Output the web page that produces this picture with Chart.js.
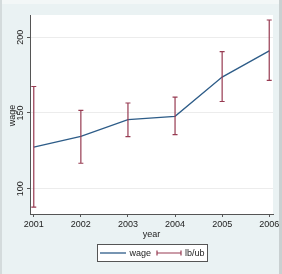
<!DOCTYPE html>
<html><head><meta charset="utf-8">
<script src="https://cdn.jsdelivr.net/npm/chart.js@4.4.1/dist/chart.umd.min.js"></script>
<style>html,body{margin:0;padding:0;background:#fff;overflow:hidden}#wrap{width:282px;height:274px}</style>
</head><body><div id="wrap"><canvas id="c" width="282" height="274"></canvas></div>
<script>
const years = [2001, 2002, 2003, 2004, 2005, 2006];
const wage  = [127.4, 134.6, 145.6, 147.8, 173.7, 191.0];
const lb    = [87.9, 116.8, 134.4, 135.7, 157.6, 171.5];
const ub    = [167.5, 151.7, 156.6, 160.5, 190.5, 211.4];
const yTicks = [100, 150, 200];
const xTitle = 'year';
const yTitle = 'wage';
const legendLabels = ['wage', 'lb/ub'];

const FONT = "'Liberation Sans Narrow','Arial Narrow','Liberation Sans',Arial,sans-serif";
const LINE_COLOR = '#2d5c88';
const BAR_COLOR = '#973b52';
const TEXT_COLOR = '#222';

const framePlugin = {
  id: 'frame',
  beforeDraw(chart) {
    const ctx = chart.ctx, a = chart.chartArea;
    ctx.save();
    ctx.fillStyle = '#f3f7f7';
    ctx.fillRect(0, 0, 282, 274);
    ctx.fillStyle = '#eaf2f3';
    ctx.fillRect(2, 4, 277, 270);
    ctx.fillStyle = '#d4dbdc';
    ctx.fillRect(0, 0, 2, 274);
    ctx.fillStyle = '#c9d0d1';
    ctx.fillRect(279, 0, 3, 274);
    ctx.fillStyle = '#ffffff';
    ctx.fillRect(a.left, a.top, a.right - a.left, a.bottom - a.top);
    ctx.restore();
  },
  afterDatasetsDraw(chart) {
    const ctx = chart.ctx, xs = chart.scales.x, ys = chart.scales.y;
    ctx.save();
    ctx.strokeStyle = BAR_COLOR;
    ctx.lineWidth = 1.2;
    years.forEach((yr, i) => {
      const x = xs.getPixelForValue(yr);
      const y1 = ys.getPixelForValue(lb[i]);
      const y2 = ys.getPixelForValue(ub[i]);
      ctx.beginPath();
      ctx.moveTo(x, y1); ctx.lineTo(x, y2);
      ctx.moveTo(x - 2.5, y1); ctx.lineTo(x + 2.5, y1);
      ctx.moveTo(x - 2.5, y2); ctx.lineTo(x + 2.5, y2);
      ctx.stroke();
    });
    ctx.restore();
  },
  afterDraw(chart) {
    const ctx = chart.ctx, a = chart.chartArea, ys = chart.scales.y;
    ctx.save();
    ctx.fillStyle = TEXT_COLOR;
    ctx.font = '9px ' + FONT;
    ctx.textAlign = 'center';
    ctx.textBaseline = 'middle';
    // y tick labels rotated
    yTicks.forEach(v => {
      const y = ys.getPixelForValue(v);
      ctx.save();
      ctx.translate(21, y);
      ctx.rotate(-Math.PI / 2);
      ctx.fillText(String(v), 0, 0);
      ctx.restore();
    });
    // y title
    ctx.save();
    ctx.translate(13, (a.top + a.bottom) / 2 + 1);
    ctx.rotate(-Math.PI / 2);
    ctx.fillText(yTitle, 0, 0);
    ctx.restore();
    // x title
    ctx.fillText(xTitle, (a.left + a.right) / 2, 234.5);
    // legend
    ctx.fillStyle = '#fff';
    ctx.fillRect(97.5, 244.5, 110, 17);
    ctx.strokeStyle = '#555';
    ctx.lineWidth = 1;
    ctx.strokeRect(97.5, 244.5, 110, 17);
    ctx.strokeStyle = LINE_COLOR;
    ctx.lineWidth = 1.3;
    ctx.beginPath(); ctx.moveTo(100, 253); ctx.lineTo(126, 253); ctx.stroke();
    ctx.strokeStyle = BAR_COLOR;
    ctx.lineWidth = 1.2;
    ctx.beginPath();
    ctx.moveTo(157, 253); ctx.lineTo(181, 253);
    ctx.moveTo(157, 250.5); ctx.lineTo(157, 255.5);
    ctx.moveTo(181, 250.5); ctx.lineTo(181, 255.5);
    ctx.stroke();
    ctx.fillStyle = TEXT_COLOR;
    ctx.textAlign = 'left';
    ctx.fillText(legendLabels[0], 129.5, 253.5);
    ctx.fillText(legendLabels[1], 185, 253.5);
    ctx.restore();
  }
};

new Chart(document.getElementById('c'), {
  type: 'line',
  data: {
    datasets: [{
      label: legendLabels[0],
      data: years.map((x, i) => ({ x: x, y: wage[i] })),
      borderColor: LINE_COLOR,
      borderWidth: 1.3,
      pointRadius: 0,
      tension: 0,
      fill: false
    }]
  },
  options: {
    responsive: false,
    animation: false,
    events: [],
    layout: { padding: { left: 0, top: 15, right: 9, bottom: 0 } },
    plugins: { legend: { display: false }, tooltip: { enabled: false } },
    scales: {
      x: {
        type: 'linear',
        min: 2000.92,
        max: 2006.08,
        afterBuildTicks(s) { s.ticks = years.map(v => ({ value: v })); },
        afterFit(s) { s.height = 60; },
        border: { color: '#555', width: 1 },
        grid: { display: true, drawOnChartArea: false, drawTicks: true, tickLength: 3, color: '#555' },
        ticks: {
          autoSkip: false, maxRotation: 0, minRotation: 0, padding: 2,
          color: TEXT_COLOR, font: { family: FONT, size: 9 },
          callback: v => String(v)
        }
      },
      y: {
        type: 'linear',
        min: 83.3,
        max: 214.7,
        afterBuildTicks(s) { s.ticks = yTicks.map(v => ({ value: v })); },
        afterFit(s) { s.width = 30; },
        border: { color: '#555', width: 1 },
        grid: { display: true, drawOnChartArea: true, drawTicks: true, tickLength: 3, color: '#ececec', tickColor: '#555' },
        ticks: { display: false }
      }
    }
  },
  plugins: [framePlugin]
});
</script>
</body></html>
